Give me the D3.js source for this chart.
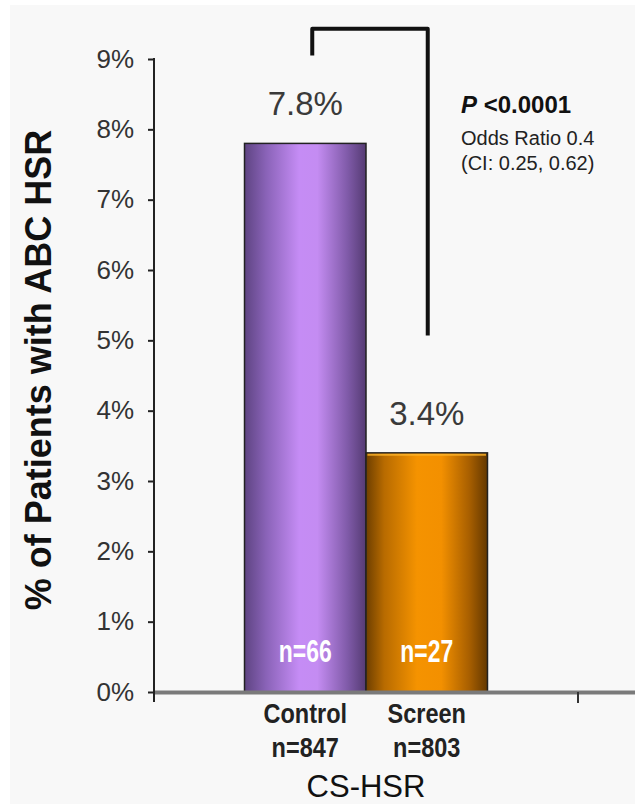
<!DOCTYPE html>
<html>
<head>
<meta charset="utf-8">
<script src="https://cdn.jsdelivr.net/npm/d3@7"></script>
<style>
  html, body { margin: 0; padding: 0; background: #ffffff; }
  svg { display: block; }
  text { font-family: "Liberation Sans", Arial, sans-serif; }
</style>
</head>
<body>
<svg id="chart" width="635" height="807"></svg>
<script>
// Category and series
const categories = ["CS-HSR"];
const groups = ["Control", "Screen"];
const groupSizes = ["n=847", "n=803"];
const percentValues = [7.8, 3.4];
const eventCounts = ["n=66", "n=27"];
const yTicks = [0, 1, 2, 3, 4, 5, 6, 7, 8, 9];
const statLines = ["Odds Ratio 0.4", "(CI: 0.25, 0.62)"];
const pValueText = "<0.0001";
const yTitle = "% of Patients with ABC HSR";

const W = 635, H = 807;
const svg = d3.select("#chart");

// light panel behind the chart
svg.append("rect").attr("x", 10).attr("y", 5).attr("width", W - 10).attr("height", 799)
  .attr("fill", "#f8f8f8");

const plot = { left: 154, right: 578, top: 59, bottom: 692 };

const y = d3.scaleLinear().domain([0, 9]).range([plot.bottom, plot.top]);
const x0 = d3.scaleBand().domain(categories).range([plot.left, plot.right]).paddingInner(0).paddingOuter(0);
const x1 = d3.scaleBand().domain(groups).range([0, x0.bandwidth()]).paddingInner(0).paddingOuter(0.745);

const defs = svg.append("defs");
function barGradient(id, stops) {
  const g = defs.append("linearGradient").attr("id", id).attr("x1", "0%").attr("x2", "100%").attr("y1", "0%").attr("y2", "0%");
  stops.forEach(s => g.append("stop").attr("offset", s[0]).attr("stop-color", s[1]));
}
barGradient("gControl", [["0%", "#5e4482"], ["18%", "#8a63b8"], ["45%", "#c58cf5"], ["60%", "#c48cf2"], ["85%", "#7f5aa8"], ["100%", "#553b73"]]);
barGradient("gScreen", [["0%", "#6e3f00"], ["15%", "#b86b00"], ["42%", "#f59300"], ["62%", "#f39000"], ["85%", "#a85f00"], ["100%", "#633800"]]);
const fills = ["url(#gControl)", "url(#gScreen)"];
const rims = [null, "#ffb52a"];

const rows = groups.map((g, i) => ({ group: g, size: groupSizes[i], value: percentValues[i], count: eventCounts[i], fill: fills[i], rim: rims[i] }));

const barX = d => x0(categories[0]) + x1(d.group);
const cx = d => barX(d) + x1.bandwidth() / 2;

// bars
const bars = svg.append("g");
bars.selectAll("rect").data(rows).join("rect")
  .attr("x", barX)
  .attr("y", d => y(d.value))
  .attr("width", x1.bandwidth())
  .attr("height", d => y(0) - y(d.value))
  .attr("fill", d => d.fill)
  .attr("stroke", "#222")
  .attr("stroke-width", 1.5);
// light rim just under the orange bar top
bars.selectAll("line").data(rows.filter(d => d.rim)).join("line")
  .attr("x1", d => barX(d) + 1.5).attr("x2", d => barX(d) + x1.bandwidth() - 1.5)
  .attr("y1", d => y(d.value) + 2).attr("y2", d => y(d.value) + 2)
  .attr("stroke", d => d.rim).attr("stroke-width", 2).attr("opacity", 0.8);

// value labels above bars
svg.append("g").selectAll("text").data(rows).join("text")
  .attr("x", d => cx(d))
  .attr("y", d => y(d.value) - 28)
  .attr("text-anchor", "middle")
  .attr("font-size", 33)
  .attr("fill", "#3a3a3a")
  .text(d => d.value.toFixed(1) + "%");

// event counts inside bars (condensed bold)
svg.append("g").selectAll("text").data(rows).join("text")
  .attr("transform", d => `translate(${cx(d)},${y(0.42)}) scale(0.74,1)`)
  .attr("text-anchor", "middle")
  .attr("font-size", 31)
  .attr("font-weight", "bold")
  .attr("fill", "#ffffff")
  .text(d => d.count);

// x axis: thick baseline and category boundary tick
svg.append("line").attr("x1", plot.left).attr("x2", W).attr("y1", y(0) + 0.5).attr("y2", y(0) + 0.5)
  .attr("stroke", "#7a7a7a").attr("stroke-width", 4);
svg.append("line").attr("x1", plot.right).attr("x2", plot.right).attr("y1", y(0)).attr("y2", y(0) + 11)
  .attr("stroke", "#333").attr("stroke-width", 2);

// y axis
const yAxis = svg.append("g").attr("transform", `translate(${plot.left},0)`)
  .call(d3.axisLeft(y).tickValues(yTicks).tickFormat(d => d + "%").tickSize(6).tickPadding(14));
yAxis.select(".domain").remove();
yAxis.selectAll(".tick line").attr("stroke", "#222").attr("stroke-width", 2);
yAxis.selectAll(".tick text").attr("font-size", 26).attr("fill", "#333").attr("font-family", "Liberation Sans, Arial, sans-serif");
svg.append("line").attr("x1", plot.left).attr("x2", plot.left).attr("y1", y(9) - 1).attr("y2", y(0) + 10)
  .attr("stroke", "#222").attr("stroke-width", 2);

// group labels under bars (condensed bold)
const labelG = svg.append("g").selectAll("g").data(rows).join("g");
labelG.append("text")
  .attr("transform", d => `translate(${cx(d)},723) scale(0.84,1)`)
  .attr("text-anchor", "middle").attr("font-size", 28).attr("font-weight", "bold").attr("fill", "#222")
  .text(d => d.group);
labelG.append("text")
  .attr("transform", d => `translate(${cx(d)},757) scale(0.84,1)`)
  .attr("text-anchor", "middle").attr("font-size", 28).attr("font-weight", "bold").attr("fill", "#222")
  .text(d => d.size);

// category label
svg.append("text").attr("x", x0(categories[0]) + x0.bandwidth() / 2).attr("y", 797)
  .attr("text-anchor", "middle").attr("font-size", 31).attr("fill", "#111")
  .text(categories[0]);

// y axis title
svg.append("text")
  .attr("transform", `translate(51, 370) rotate(-90)`)
  .attr("text-anchor", "middle").attr("font-size", 36).attr("font-weight", "bold").attr("fill", "#111")
  .text(yTitle);

// significance bracket
const bx1 = cx(rows[0]) + 7, bx2 = cx(rows[1]) + 1;
svg.append("path")
  .attr("d", `M${bx1},${y(9.05)} V${y(9.43)} H${bx2} V${y(5.07)}`)
  .attr("fill", "none").attr("stroke", "#111").attr("stroke-width", 4)
  .attr("stroke-linejoin", "round");

// statistics annotation
const ann = svg.append("g").attr("transform", "translate(461,0)");
const pt = ann.append("text").attr("y", 113).attr("font-size", 24).attr("font-weight", "bold").attr("fill", "#111");
pt.append("tspan").attr("font-style", "italic").text("P");
pt.append("tspan").text(" " + pValueText);
ann.selectAll("text.stat").data(statLines).join("text").attr("class", "stat")
  .attr("y", (d, i) => 145 + i * 25)
  .attr("font-size", 20).attr("fill", "#222")
  .text(d => d);
</script>
</body>
</html>
